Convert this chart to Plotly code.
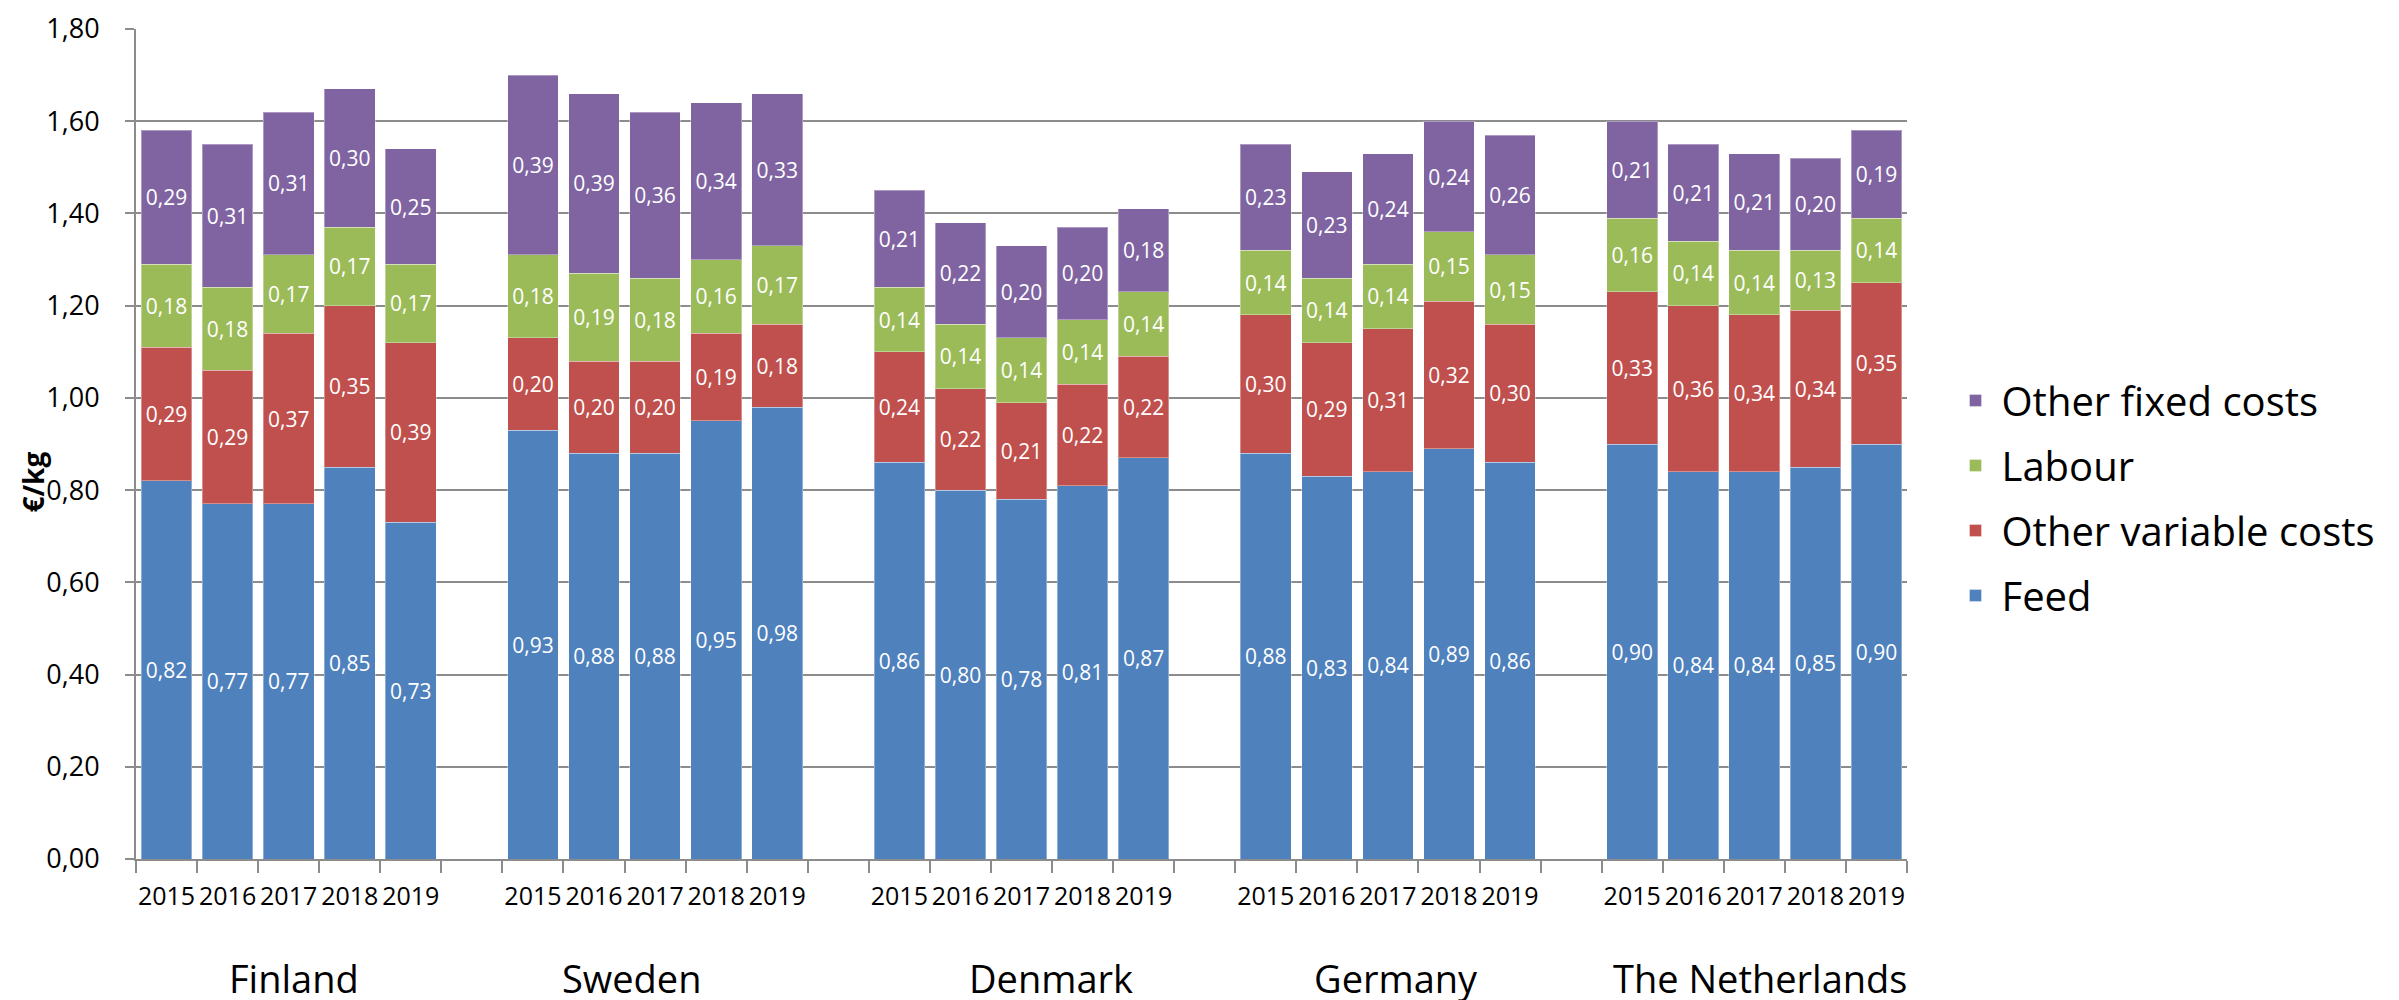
import plotly.graph_objects as go

countries = ["Finland", "Sweden", "Denmark", "Germany", "The Netherlands"]
years = ["2015", "2016", "2017", "2018", "2019"]

feed = [0.82, 0.77, 0.77, 0.85, 0.73,
        0.93, 0.88, 0.88, 0.95, 0.98,
        0.86, 0.80, 0.78, 0.81, 0.87,
        0.88, 0.83, 0.84, 0.89, 0.86,
        0.90, 0.84, 0.84, 0.85, 0.90]
other_variable = [0.29, 0.29, 0.37, 0.35, 0.39,
                  0.20, 0.20, 0.20, 0.19, 0.18,
                  0.24, 0.22, 0.21, 0.22, 0.22,
                  0.30, 0.29, 0.31, 0.32, 0.30,
                  0.33, 0.36, 0.34, 0.34, 0.35]
labour = [0.18, 0.18, 0.17, 0.17, 0.17,
          0.18, 0.19, 0.18, 0.16, 0.17,
          0.14, 0.14, 0.14, 0.14, 0.14,
          0.14, 0.14, 0.14, 0.15, 0.15,
          0.16, 0.14, 0.14, 0.13, 0.14]
other_fixed = [0.29, 0.31, 0.31, 0.30, 0.25,
               0.39, 0.39, 0.36, 0.34, 0.33,
               0.21, 0.22, 0.20, 0.20, 0.18,
               0.23, 0.23, 0.24, 0.24, 0.26,
               0.21, 0.21, 0.21, 0.20, 0.19]

series = [
    ("Feed", feed, "#4F81BD"),
    ("Other variable costs", other_variable, "#C0504D"),
    ("Labour", labour, "#9BBB59"),
    ("Other fixed costs", other_fixed, "#8064A2"),
]

# horizontal nudges (px) of the hand-placed country captions
country_shift = [5, -23, 29, 8, 6]

FONT = "Open Sans"
GRID = "#8C8C8C"

# slot positions: 5 years per country, one empty slot between countries
group = len(years) + 1
xpos = [ci * group + yi for ci in range(len(countries)) for yi in range(len(years))]
ticklabels = [y for _ in countries for y in years]
n_slots = len(countries) * group - 1

fig = go.Figure()
for si, (name, vals, col) in enumerate(series):
    fig.add_trace(go.Bar(
        x=xpos, y=vals, name=name,
        marker=dict(color=col, line=dict(color="rgba(255,255,255,0.35)", width=1)),
        text=[f"{v:.2f}".replace(".", ",") for v in vals],
        textposition="inside", insidetextanchor="middle",
        textfont=dict(family=FONT, size=21, color="white"),
        textangle=0, cliponaxis=False,
        legendgroup=name, legendrank=100 - si,
    ))

annotations = []
for ci, c in enumerate(countries):
    annotations.append(dict(
        x=ci * group + (len(years) - 1) / 2, y=-0.1434, xref="x", yref="paper",
        xshift=country_shift[ci],
        text=c, showarrow=False, xanchor="center", yanchor="middle",
        font=dict(family=FONT, size=38, color="black")))
annotations.append(dict(
    x=-0.058, y=0.454, xref="paper", yref="paper", text="<b>€/kg</b>",
    textangle=-90, showarrow=False, xanchor="center", yanchor="middle",
    font=dict(family=FONT, size=28, color="black")))

fig.update_layout(
    width=2399, height=1000,
    margin=dict(l=128, r=500, t=21, b=149, autoexpand=False),
    paper_bgcolor="white", plot_bgcolor="white",
    barmode="stack", bargap=0.17,
    separators=", ",
    font=dict(family=FONT, color="black"),
    showlegend=True,
    legend=dict(
        x=1.024, xanchor="left", y=0.435, yanchor="middle",
        traceorder="grouped", tracegroupgap=10,
        font=dict(family=FONT, size=40, color="black"),
        itemwidth=42,
    ),
    annotations=annotations,
    xaxis=dict(
        range=[-0.5, n_slots - 0.5],
        tickmode="array", tickvals=xpos, ticktext=ticklabels,
        ticks="", showgrid=False, tickangle=0, automargin=False,
        tickfont=dict(family=FONT, size=25, color="black"),
        ticklabelstandoff=14,
        showline=True, linecolor=GRID, linewidth=2,
        minor=dict(tickmode="linear", tick0=-0.5, dtick=1, ticks="outside",
                   ticklen=12, tickwidth=2, tickcolor=GRID, showgrid=False),
        zeroline=False,
    ),
    yaxis=dict(
        range=[0, 1.8], tickmode="linear", tick0=0, dtick=0.2,
        tickformat=".2f", automargin=False,
        tickfont=dict(family=FONT, size=27, color="black"),
        ticks="outside", ticklen=9, tickwidth=2, tickcolor=GRID,
        ticklabelstandoff=20,
        showgrid=True, gridcolor=GRID, gridwidth=2,
        showline=True, linecolor=GRID, linewidth=2,
        zeroline=False,
    ),
)

fig.write_html("out.html")
